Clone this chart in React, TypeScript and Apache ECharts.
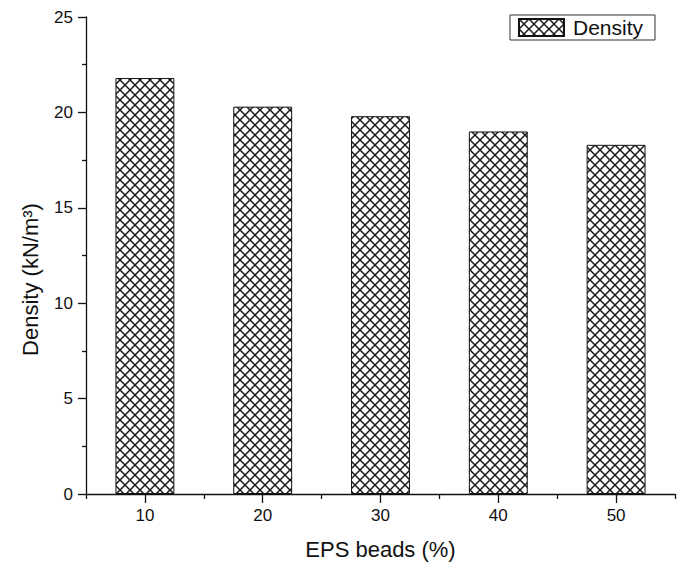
import React, { useEffect, useRef } from "react";
import * as echarts from "echarts";

const categories = ["10", "20", "30", "40", "50"];
const densityValues = [21.8, 20.3, 19.8, 19.0, 18.3];
const seriesName = "Density";
const xAxisName = "EPS beads (%)";
const yAxisName = "Density (kN/m³)";

function makePattern() {
  const size = 10;
  const c = document.createElement("canvas");
  c.width = size;
  c.height = size;
  const ctx = c.getContext("2d")!;
  ctx.fillStyle = "#ffffff";
  ctx.fillRect(0, 0, size, size);
  ctx.strokeStyle = "#1a1a1a";
  ctx.lineWidth = 1.5;
  ctx.beginPath();
  ctx.moveTo(-2, -2);
  ctx.lineTo(size + 2, size + 2);
  ctx.moveTo(-2, size + 2);
  ctx.lineTo(size + 2, -2);
  ctx.stroke();
  return { image: c, repeat: "repeat", imageWidth: size, imageHeight: size } as any;
}

export default function App() {
  const ref = useRef<HTMLDivElement>(null);
  useEffect(() => {
    if (!ref.current) return;
    const chart = echarts.init(ref.current, null, { renderer: "svg" });
    const font = "Liberation Sans, Arial, sans-serif";
    const pattern = makePattern();
    chart.setOption({
      animation: false,
      backgroundColor: "#ffffff",
      grid: { left: 86, right: 7, top: 17, bottom: 71 },
      legend: {
        right: 27,
        top: 15,
        padding: [2, 12, 2, 8],
        itemWidth: 45,
        itemHeight: 17,
        borderColor: "#333",
        borderWidth: 1,
        icon: "rect",
        textStyle: { fontFamily: font, fontSize: 21, color: "#111", padding: [0, 0, 0, 4] },
        data: [seriesName],
      },
      xAxis: [
        {
          type: "category",
          data: categories,
          name: xAxisName,
          nameLocation: "middle",
          nameGap: 44,
          nameTextStyle: { fontFamily: font, fontSize: 22, color: "#111" },
          axisLine: { lineStyle: { color: "#111", width: 1.3 } },
          axisTick: { show: true, length: 5, alignWithLabel: false, lineStyle: { color: "#111", width: 1.3 } },
          axisLabel: { fontFamily: font, fontSize: 17, color: "#111", margin: 13 },
          splitLine: { show: false },
        },
        {
          type: "category",
          data: categories,
          position: "bottom",
          axisLine: { show: false },
          axisTick: { show: true, length: 9, alignWithLabel: true, lineStyle: { color: "#111", width: 1.3 } },
          axisLabel: { show: false },
          splitLine: { show: false },
        },
      ],
      yAxis: {
        type: "value",
        min: 0,
        max: 25,
        interval: 5,
        name: yAxisName,
        nameLocation: "middle",
        nameGap: 45,
        nameTextStyle: { fontFamily: font, fontSize: 22, color: "#111", padding: [0, 48, 0, 0] },
        axisLine: { show: true, lineStyle: { color: "#111", width: 1.3 } },
        axisTick: { show: true, length: 8, lineStyle: { color: "#111", width: 1.3 } },
        minorTick: { show: true, splitNumber: 2, length: 4, lineStyle: { color: "#111", width: 1.3 } },
        axisLabel: { fontFamily: font, fontSize: 17, color: "#111", margin: 13 },
        splitLine: { show: false },
      },
      series: [
        {
          name: seriesName,
          type: "bar",
          xAxisIndex: 0,
          data: densityValues,
          barWidth: "50%",
          itemStyle: { color: pattern, borderColor: "#111", borderWidth: 1 },
        },
      ],
    });
    return () => chart.dispose();
  }, []);
  return (
    <div
      ref={ref}
      style={{ position: "fixed", left: 0, top: 0, width: 682, height: 565 }}
    />
  );
}
